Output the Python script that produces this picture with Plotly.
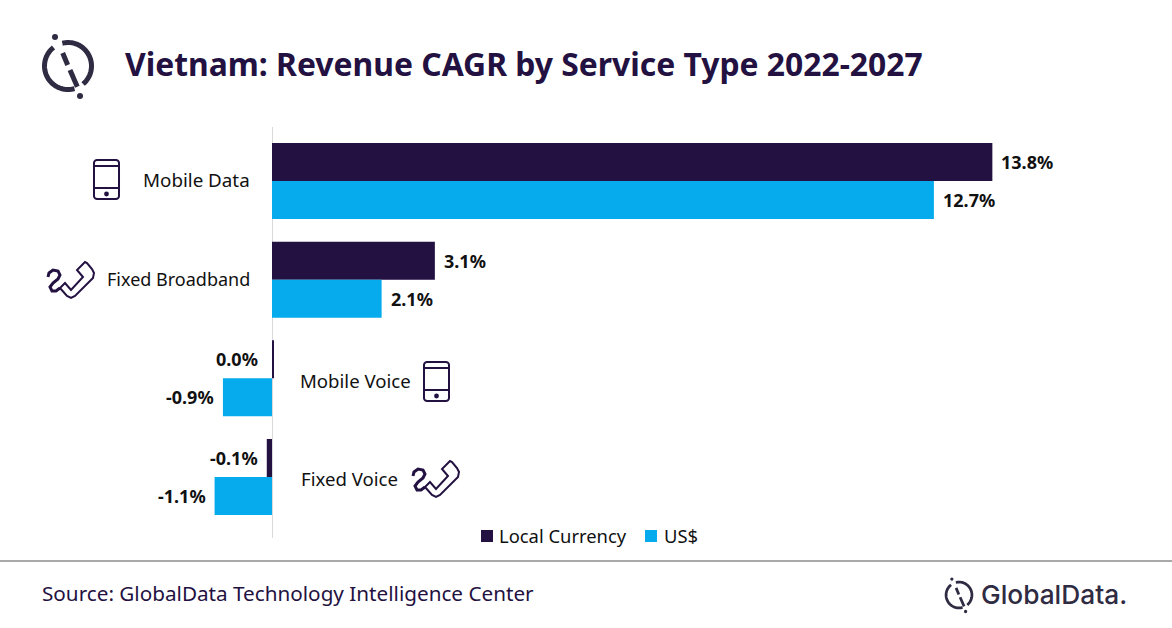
import numpy as np
import plotly.graph_objects as go

W, H = 1172, 628

# Data
categories = ['Mobile Data', 'Fixed Broadband', 'Mobile Voice', 'Fixed Voice']
local_currency = [13.8, 3.12, 0.03, -0.1]
us_dollar = [12.68, 2.1, -0.94, -1.1]
local_labels = ['13.8%', '3.1%', '0.0%', '-0.1%']
us_labels = ['12.7%', '2.1%', '-0.9%', '-1.1%']
series_names = ['Local Currency', 'US$']

NAVY = '#231141'
BLUE = '#05ABEC'
TEXT = '#111111'
FONT = 'Noto Sans'


def px(x, y):
    return x / W, 1 - y / H


def path_str(points, close=False):
    out = []
    for i, (x, y) in enumerate(points):
        a, b = px(x, y)
        out.append(('M' if i == 0 else 'L') + f'{a:.5f},{b:.5f}')
    return ' '.join(out) + (' Z' if close else '')


def line_shape(points, color=NAVY, width=2, close=False, fill=None):
    return dict(type='path', xref='paper', yref='paper', path=path_str(points, close),
                line=dict(color=color, width=width), fillcolor=fill, layer='above')


def dot(cx, cy, r, color=NAVY):
    a0, b0 = px(cx - r, cy - r)
    a1, b1 = px(cx + r, cy + r)
    return dict(type='circle', xref='paper', yref='paper', x0=a0, x1=a1, y0=b0, y1=b1,
                line=dict(width=0), fillcolor=color)


def square(x0, y0, size, color):
    a0, b0 = px(x0, y0)
    a1, b1 = px(x0 + size, y0 + size)
    return dict(type='rect', xref='paper', yref='paper', x0=a0, x1=a1, y0=b0, y1=b1,
                line=dict(width=0), fillcolor=color)


def arc(cx, cy, r, start, end, n=40):
    ang = np.radians(np.linspace(start, end, n))
    return list(zip(cx + r * np.cos(ang), cy + r * np.sin(ang)))


def logo(cx, cy, s, color='#2F2B42'):
    w = 5 * s
    return [
        line_shape(arc(cx, cy, 23.5 * s, 232, 74), color, w),
        line_shape(arc(cx, cy, 23.5 * s, -104, 50), color, w),
        line_shape([(cx - 5.3 * s, cy - 13 * s), (cx - 0.3 * s, cy - 1 * s)], color, w),
        line_shape([(cx + 2 * s, cy + 4 * s), (cx + 9.3 * s, cy + 20.7 * s)], color, w),
        dot(cx - 13 * s, cy - 29 * s, 3 * s, color),
        dot(cx + 12 * s, cy + 30 * s, 3 * s, color),
    ]


def phone(x, y):
    w, h, r = 25, 39, 3
    body = arc(x + r, y + r, r, 180, 270, 6) + arc(x + w - r, y + r, r, 270, 360, 6) \
        + arc(x + w - r, y + h - r, r, 0, 90, 6) + arc(x + r, y + h - r, r, 90, 180, 6)
    return [
        line_shape(body, close=True),
        line_shape([(x, y + 6), (x + w, y + 6)]),
        line_shape([(x, y + 28), (x + w, y + 28)]),
        dot(x + w / 2, y + 34, 2.4),
    ]


def handset(dx, dy):
    wire = [(48, 277), (49, 273), (53, 270), (58, 271), (60, 275), (58, 279), (53, 283),
            (50, 287), (52, 291), (56, 291), (60, 288)]
    body = [(60, 288), (67, 296), (71, 298), (75, 296), (93, 278), (94, 273), (92, 269),
            (87, 263), (85, 262), (77, 270), (83, 277), (71, 290), (65, 283)]
    return [line_shape([(x + dx, y + dy) for x, y in wire], width=3),
            line_shape([(x + dx, y + dy) for x, y in body], close=True)]


fig = go.Figure()

fig.add_trace(go.Bar(y=categories, x=local_currency, orientation='h', name=series_names[0],
                     marker=dict(color=NAVY, line=dict(width=0))))
fig.add_trace(go.Bar(y=categories, x=us_dollar, orientation='h', name=series_names[1],
                     marker=dict(color=BLUE, line=dict(width=0))))

# Data labels
annotations = []
for i, cat in enumerate(categories):
    for vals, labels, ys in ((local_currency, local_labels, -19), (us_dollar, us_labels, 19)):
        v = vals[i]
        zero = labels[i] == '0.0%'
        right = labels[i].startswith('-') or zero
        gap = 12 if zero else 7
        annotations.append(dict(x=0 if zero else v, y=cat, xref='x', yref='y',
                                text=f'<b>{labels[i]}</b>', showarrow=False,
                                xanchor='right' if right else 'left',
                                xshift=-gap if right else gap, yshift=-ys,
                                font=dict(family=FONT, size=18, color=TEXT)))

# Category labels sit left of the axis for growth, right of it for decline
label_x = [252, 252, 298, 299]
label_y = [180, 279, 380, 478]
label_size = [18.8, 18, 18.6, 18.6]
for i, cat in enumerate(categories):
    a, b = px(label_x[i], label_y[i])
    annotations.append(dict(x=a, y=b, xref='paper', yref='paper', text=cat, showarrow=False,
                            xanchor='right' if i < 2 else 'left', yanchor='middle',
                            font=dict(family=FONT, size=label_size[i], color=TEXT)))

# Title, source and brand
a, b = px(123, 64)
annotations.append(dict(x=a, y=b, xref='paper', yref='paper', xanchor='left', yanchor='middle',
                        text='<b>Vietnam: Revenue CAGR by Service Type 2022-2027</b>',
                        showarrow=False, font=dict(family=FONT, size=31.85, color=NAVY)))
a, b = px(40, 593)
annotations.append(dict(x=a, y=b, xref='paper', yref='paper', xanchor='left', yanchor='middle',
                        text='Source: GlobalData Technology Intelligence Center',
                        showarrow=False, font=dict(family=FONT, size=20.7, color=NAVY)))
a, b = px(979, 594)
annotations.append(dict(x=a, y=b, xref='paper', yref='paper', xanchor='left', yanchor='middle',
                        text='GlobalData.', showarrow=False,
                        font=dict(family='Inter', size=26.3, color='#2F2B42', weight=500)))

# Legend drawn by hand, the swatch sits much closer to its text than plotly's legend allows
for name, x_text in zip(series_names, [497, 662]):
    a, b = px(x_text, 535)
    annotations.append(dict(x=a, y=b, xref='paper', yref='paper', xanchor='left', yanchor='middle',
                            text=name, showarrow=False,
                            font=dict(family=FONT, size=18.4, color=TEXT)))

shapes = logo(68, 66, 1) + logo(959, 595, 0.55)
shapes += phone(94, 160) + phone(424, 362)
shapes += handset(0, 0) + handset(365, 199)
shapes.append(line_shape([(0, 561), (W, 561)], color='#8C8C8C', width=1.3))
shapes.append(square(481, 530, 12, NAVY))
shapes.append(square(645, 530, 12, BLUE))

# x axis pinned so that zero lands on the vertical rule
PX_PER_UNIT = 52.2
ZERO_X = 272
DOM_L, DOM_R = 100, 1100

fig.update_layout(
    width=W, height=H,
    margin=dict(l=0, r=0, t=0, b=0),
    paper_bgcolor='white', plot_bgcolor='white',
    barmode='group', bargap=0.23, bargroupgap=0,
    annotations=annotations, shapes=shapes,
    showlegend=False,
    xaxis=dict(domain=[DOM_L / W, DOM_R / W],
               range=[(DOM_L - ZERO_X) / PX_PER_UNIT, (DOM_R - ZERO_X) / PX_PER_UNIT],
               showgrid=False, showticklabels=False, ticks='',
               zeroline=True, zerolinecolor='#D9D9D9', zerolinewidth=1),
    yaxis=dict(domain=[1 - 538 / H, 1 - 127 / H], type='category', range=[3.618, -0.547],
               showgrid=False, showticklabels=False, ticks='', zeroline=False),
)

fig.write_html("out.html", config=dict(displayModeBar=False),
               post_script="document.body.style.margin='0'")
